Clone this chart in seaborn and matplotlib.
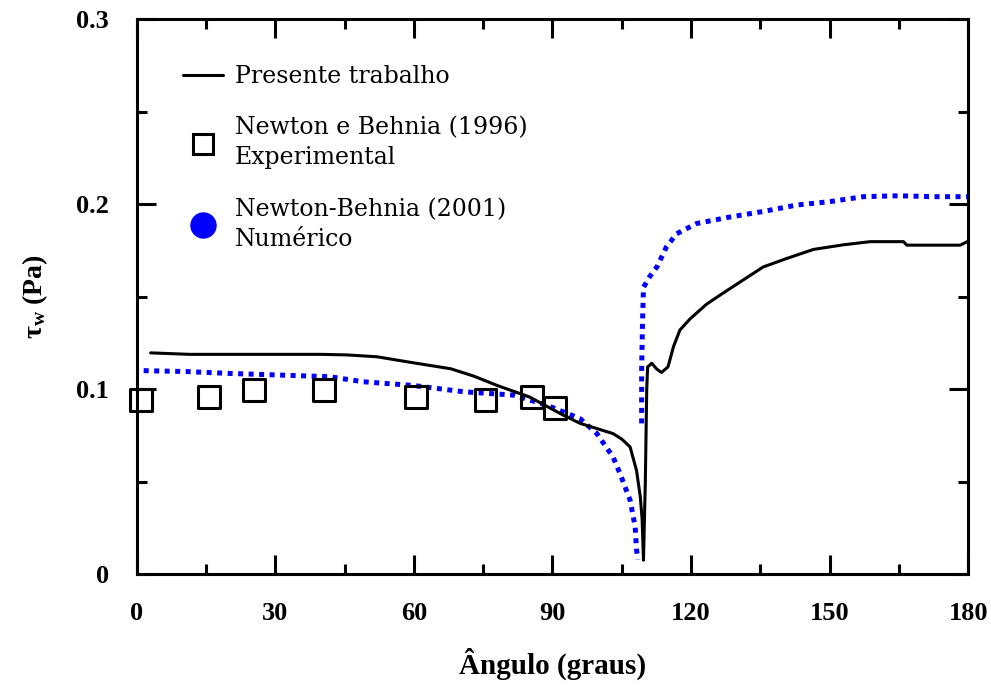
import numpy as np
import pandas as pd
import seaborn as sns
import matplotlib.pyplot as plt
from matplotlib.lines import Line2D
from matplotlib.ticker import MultipleLocator

# Presente trabalho (linha preta)
ang_presente = [3, 11.5, 20, 30, 40, 45.5, 52, 58.5, 63, 68, 73, 78, 85, 92.3, 96,
                101.8, 103.1, 105, 106.8, 108.2, 109, 109.4, 109.7, 110.1, 110.4,
                110.6, 111.5, 112.5, 113.6, 115, 116.2, 117.6, 119.8, 123.4, 127,
                131.3, 135.6, 140.7, 146.5, 153, 158.8, 166, 166.7, 178.3, 180]
tau_presente = [0.1196, 0.1188, 0.1188, 0.1188, 0.1188, 0.1185, 0.1175, 0.1148,
                0.113, 0.111, 0.107, 0.102, 0.0958, 0.086, 0.0815, 0.077, 0.076,
                0.073, 0.0688, 0.056, 0.042, 0.03, 0.0076, 0.05, 0.0995, 0.112,
                0.114, 0.111, 0.109, 0.112, 0.123, 0.132, 0.138, 0.146, 0.152,
                0.159, 0.166, 0.1706, 0.1755, 0.178, 0.1797, 0.1797, 0.1778,
                0.1778, 0.18]

# Newton-Behnia (2001) numerico (pontos azuis), dois trechos
ang_num = [1.5, 10.8, 20, 31, 41.8, 49, 59.8, 70.7, 81.5, 88.7, 96, 99.6, 103.1,
           104.6, 106.8, 107.9, 108.2, 108.5,
           109.3, 109.3, 109.5, 109.7, 111.1, 112.6, 114.7, 116.9, 121.2, 128.4,
           135.6, 142.9, 150, 157.3, 165, 172, 180]
tau_num = [0.110, 0.1095, 0.1085, 0.1076, 0.1067, 0.104, 0.102, 0.0986, 0.0968,
           0.0914, 0.084, 0.076, 0.0634, 0.0545, 0.040, 0.0256, 0.013, 0.008,
           0.0815, 0.11, 0.137, 0.155, 0.161, 0.166, 0.177, 0.184, 0.1895, 0.193,
           0.196, 0.1995, 0.2013, 0.204, 0.2045, 0.204, 0.204]
trecho_num = [0] * 18 + [1] * 17

# Newton e Behnia (1996) experimental
ang_exp = [1, 15.6, 25.4, 40.5, 60.4, 75.5, 85.5, 90.5]
tau_exp = [0.094, 0.0958, 0.0995, 0.0995, 0.0958, 0.094, 0.0958, 0.090]

sns.set_style("ticks", {'axes.edgecolor': 'black', 'text.color': 'black',
                        'xtick.color': 'black', 'ytick.color': 'black',
                        'axes.labelcolor': 'black'})
plt.rcParams['font.family'] = ['Liberation Serif', 'DejaVu Serif']
plt.rcParams['mathtext.fontset'] = 'stix'
plt.rcParams['legend.labelcolor'] = 'black'

fig = plt.figure(figsize=(9.91, 6.91), dpi=100)
ax = fig.add_axes([0.138, 0.169, 0.839, 0.8035])

df_pres = pd.DataFrame({'ang': ang_presente, 'tau': tau_presente})
df_num = pd.DataFrame({'ang': ang_num, 'tau': tau_num, 'trecho': trecho_num})
df_exp = pd.DataFrame({'ang': ang_exp, 'tau': tau_exp})

sns.lineplot(data=df_num, x='ang', y='tau', units='trecho', estimator=None,
             sort=False, color='#0000ff', lw=3.6, ax=ax,
             dashes=False, linestyle=(0, (1.0, 1.1)), dash_capstyle='butt')
sns.lineplot(data=df_pres, x='ang', y='tau', estimator=None, sort=False,
             color='black', lw=2.2, ax=ax)
sns.scatterplot(data=df_exp, x='ang', y='tau', marker='s', s=250,
                facecolor='none', edgecolor='black', linewidth=2.2, ax=ax,
                zorder=5, clip_on=False)

ax.set_xlim(0, 180)
ax.set_ylim(0, 0.3)
ax.xaxis.set_major_locator(MultipleLocator(30))
ax.xaxis.set_minor_locator(MultipleLocator(15))
ax.yaxis.set_major_locator(MultipleLocator(0.1))
ax.yaxis.set_minor_locator(MultipleLocator(0.05))
ax.set_xticks([0, 30, 60, 90, 120, 150, 180])
ax.set_xticklabels(['0', '30', '60', '90', '120', '150', '180'])
ax.set_yticks([0, 0.1, 0.2, 0.3])
ax.set_yticklabels(['0', '0.1', '0.2', '0.3'])
ax.tick_params(which='both', direction='in', top=True, right=True,
               width=2.2, labelsize=19, color='black', labelcolor='black')
ax.tick_params(axis='x', pad=20)
ax.tick_params(axis='y', pad=20)
ax.tick_params(which='major', length=14)
ax.tick_params(which='minor', length=7)
for lab in ax.get_xticklabels() + ax.get_yticklabels():
    lab.set_fontweight('bold')
for sp in ax.spines.values():
    sp.set_linewidth(2.2)
    sp.set_color('black')
    sp.set_visible(True)

ax.set_xlabel('Ângulo (graus)', fontsize=21, fontweight='bold', labelpad=16,
              color='black')
ax.set_ylabel(r'$\mathregular{\tau_w}$ (Pa)', fontsize=20, fontweight='bold',
              labelpad=19, color='black')

handles = [
    Line2D([], [], color='black', lw=2.2),
    Line2D([], [], color='black', marker='s', ls='none', markersize=15,
           markerfacecolor='none', markeredgewidth=2.2),
    Line2D([], [], color='#0000ff', marker='o', ls='none', markersize=18),
]
labels = ['Presente trabalho', 'Newton e Behnia (1996)\nExperimental',
          'Newton-Behnia (2001)\nNumérico']
leg = ax.legend(handles, labels, loc='upper left', bbox_to_anchor=(0.030, 0.955),
                frameon=False, prop={'family': 'DejaVu Serif', 'size': 17},
                handlelength=1.7, handletextpad=0.5, labelspacing=1.2)
for t in leg.get_texts():
    t.set_linespacing(1.38)
    t.set_color('black')

fig.savefig('out.png', dpi=100)
